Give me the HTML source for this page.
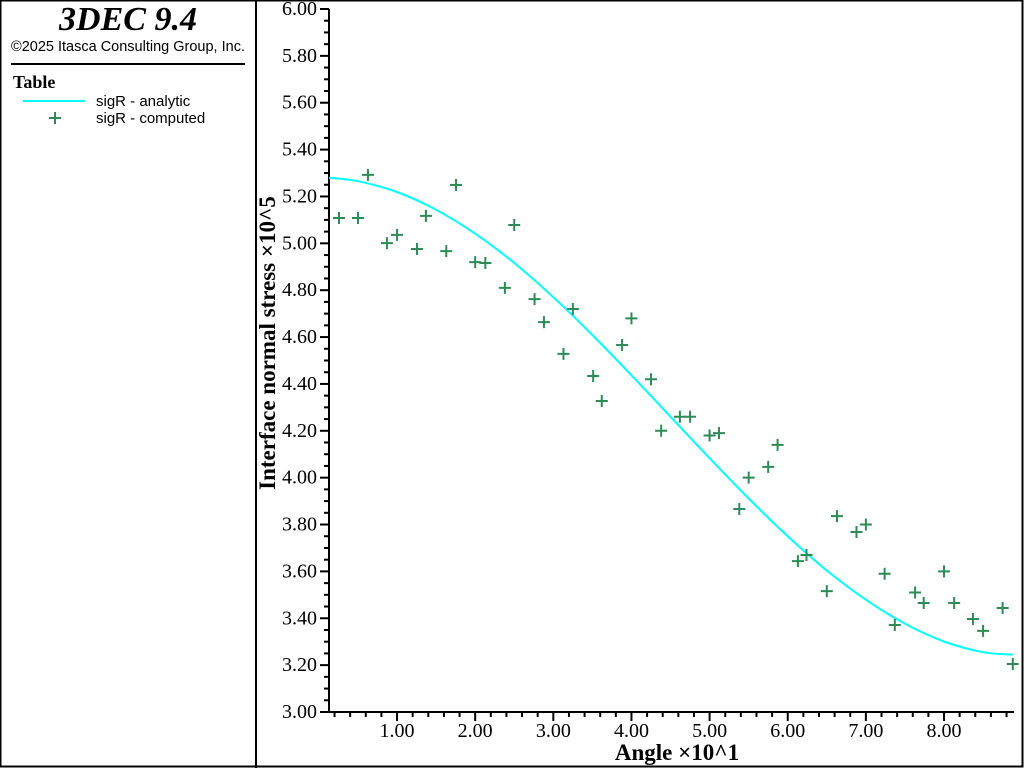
<!DOCTYPE html>
<html><head><meta charset="utf-8"><style>
html,body{margin:0;padding:0;background:#fff;}
svg{display:block;}
</style></head><body>
<svg id="chart" width="1024" height="768" xmlns="http://www.w3.org/2000/svg">
<rect x="0.5" y="0.5" width="1022" height="766" fill="#fff" stroke="#000" stroke-width="2"/>
<line x1="256" y1="0" x2="256" y2="768" stroke="#000" stroke-width="2"/>
<text x="128" y="30" text-anchor="middle" font-family="Liberation Serif, serif" font-weight="bold" font-style="italic" font-size="34">3DEC 9.4</text>
<text x="128" y="51" text-anchor="middle" font-family="Liberation Sans, sans-serif" font-size="14.5">©2025 Itasca Consulting Group, Inc.</text>
<line x1="11" y1="64" x2="245" y2="64" stroke="#000" stroke-width="2"/>
<text x="13" y="88" font-family="Liberation Serif, serif" font-weight="bold" font-size="18">Table</text>
<g>
<line x1="23" y1="101" x2="85" y2="101" stroke="#00ffff" stroke-width="2"/>
<text x="96" y="106" font-family="Liberation Sans, sans-serif" font-size="15">sigR - analytic</text>
</g>
<g>
<path d="M49 118h12M55 112v12" stroke="#2e8b57" stroke-width="2"/>
<text x="96" y="123" font-family="Liberation Sans, sans-serif" font-size="15">sigR - computed</text>
</g>
<g id="axes"></g>
<g id="marks"></g>
<text x="677" y="760" text-anchor="middle" font-family="Liberation Serif, serif" font-weight="bold" font-size="23">Angle ×10^1</text>
<text transform="translate(275,343) rotate(-90)" text-anchor="middle" font-family="Liberation Serif, serif" font-weight="bold" font-size="23">Interface normal stress ×10^5</text>
</svg>
<script>
const xTickLabels = ["1.00","2.00","3.00","4.00","5.00","6.00","7.00","8.00"];
const yTickLabels = ["3.00","3.20","3.40","3.60","3.80","4.00","4.20","4.40","4.60","4.80","5.00","5.20","5.40","5.60","5.80","6.00"];
const analyticX = [0.13,0.5,1.0,1.5,2.0,2.5,3.0,3.5,4.0,4.5,5.0,5.5,6.0,6.5,7.0,7.5,8.0,8.5,8.88];
const analyticY = [5.28,5.265,5.219,5.143,5.041,4.916,4.77,4.609,4.437,4.26,4.083,3.911,3.75,3.604,3.479,3.377,3.301,3.255,3.245];
const computedX = [0.257,0.50,0.628,0.871,1.0,1.255,1.37,1.63,1.755,2.0,2.13,2.38,2.50,2.76,2.88,3.13,3.25,3.51,3.62,3.88,4.0,4.25,4.38,4.62,4.75,5.0,5.12,5.38,5.50,5.75,5.87,6.13,6.24,6.50,6.63,6.88,7.0,7.24,7.37,7.63,7.74,8.0,8.13,8.37,8.50,8.75,8.88];
const computedY = [5.108,5.108,5.292,5.001,5.036,4.976,5.117,4.967,5.249,4.92,4.916,4.81,5.078,4.762,4.664,4.528,4.72,4.434,4.327,4.566,4.68,4.42,4.20,4.26,4.26,4.18,4.19,3.866,4.0,4.046,4.14,3.644,3.67,3.516,3.836,3.768,3.80,3.59,3.371,3.51,3.465,3.60,3.465,3.397,3.346,3.444,3.205];
const NS="http://www.w3.org/2000/svg";
const X0=329, X1=1014, Y0=712, Y1=9;
function sx(v){return 318.9+v*78.14;}
function sy(v){return 9+(6-v)*234.33;}
const axes=document.getElementById('axes'), marks=document.getElementById('marks');
function mk(tag,attrs,parent){const e=document.createElementNS(NS,tag);for(const k in attrs)e.setAttribute(k,attrs[k]);parent.appendChild(e);return e;}
const xa=mk('line',{x1:X0,y1:Y0,x2:X1,y2:Y0,stroke:'#000','stroke-width':2},axes);


const ya=mk('line',{x1:X0,y1:Y0,x2:X0,y2:Y1,stroke:'#000','stroke-width':2},axes);


for(let i=0;i<=60;i++){const v=3+i*0.05;const y=sy(v);const major=(i%4===0);
 const t=mk('line',{x1:X0-(major?9:5),y1:y,x2:X0,y2:y,stroke:'#000','stroke-width':2},axes);
 
 }
yTickLabels.forEach(s=>{const v=parseFloat(s);
 const t=mk('text',{x:317,y:sy(v)+6,'text-anchor':'end','font-family':'Liberation Serif, serif','font-size':20},axes);
 t.textContent=s;
 
 });
for(let i=1;i<=44;i++){const v=i*0.2;const x=sx(v);if(x<X0||x>X1)continue;const major=(i%5===0);
 const t=mk('line',{x1:x,y1:Y0,x2:x,y2:Y0+(major?9:5),stroke:'#000','stroke-width':2},axes);
 
 }
xTickLabels.forEach(s=>{const v=parseFloat(s);
 const t=mk('text',{x:sx(v),y:737,'text-anchor':'middle','font-family':'Liberation Serif, serif','font-size':20},axes);
 t.textContent=s;
 
 });
// smooth curve (Catmull-Rom -> cubic Bezier)
const P=analyticX.map((v,i)=>[sx(v),sy(analyticY[i])]);
let d='M'+P[0][0].toFixed(1)+' '+P[0][1].toFixed(1);
for(let i=0;i<P.length-1;i++){const p0=P[Math.max(0,i-1)],p1=P[i],p2=P[i+1],p3=P[Math.min(P.length-1,i+2)];
 const c1=[p1[0]+(p2[0]-p0[0])/6,p1[1]+(p2[1]-p0[1])/6],c2=[p2[0]-(p3[0]-p1[0])/6,p2[1]-(p3[1]-p1[1])/6];
 d+=`C${c1[0].toFixed(1)} ${c1[1].toFixed(1)} ${c2[0].toFixed(1)} ${c2[1].toFixed(1)} ${p2[0].toFixed(1)} ${p2[1].toFixed(1)}`;}
const line=mk('path',{d:d,fill:'none',stroke:'#00ffff','stroke-width':2},marks);


computedX.forEach((v,i)=>{const x=sx(v),y=sy(computedY[i]);
 const p=mk('path',{d:`M${x-6} ${y}h12M${x} ${y-6}v12`,stroke:'#2e8b57','stroke-width':2},marks);
 
 });
</script>
</body></html>
